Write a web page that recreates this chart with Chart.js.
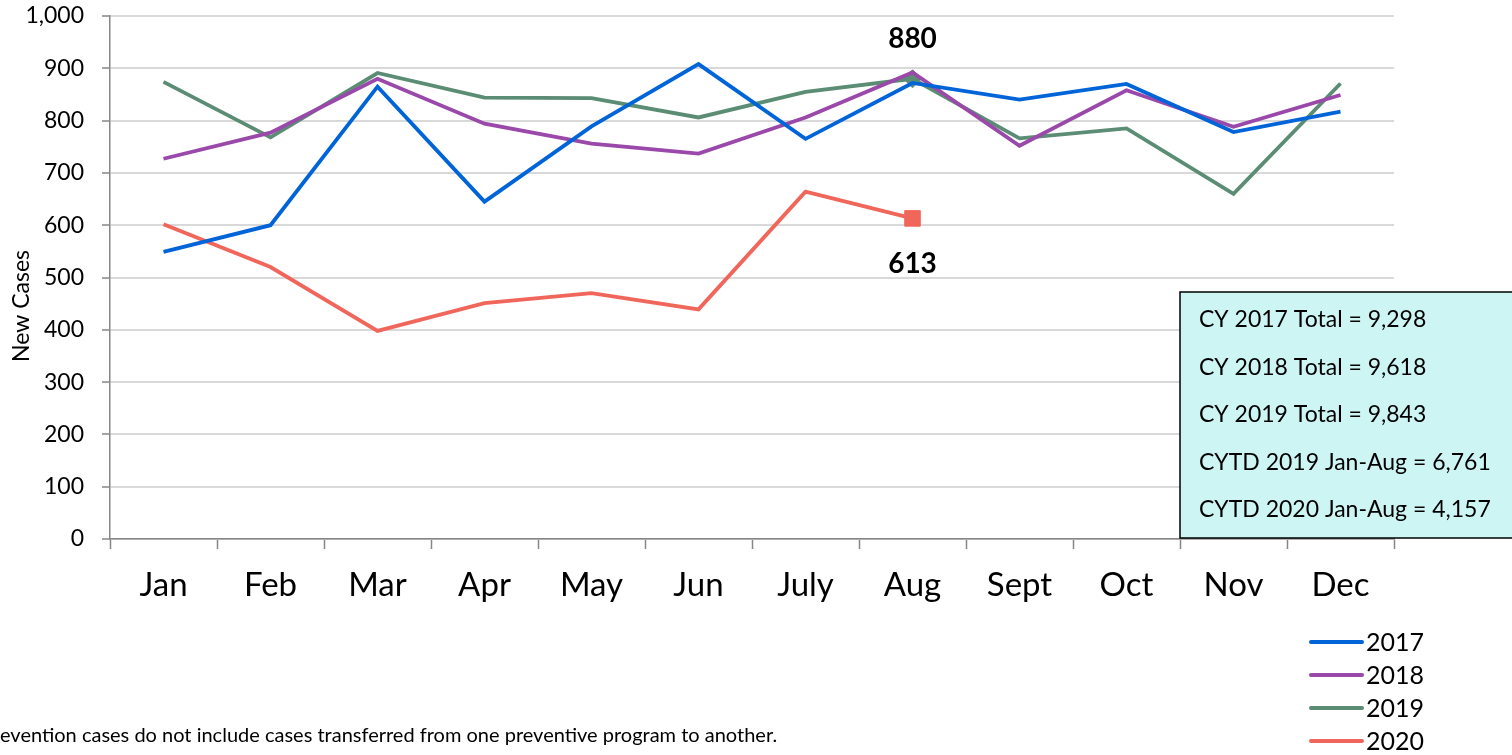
<!DOCTYPE html>
<html>
<head>
<meta charset="utf-8">
<script src="https://cdn.jsdelivr.net/npm/chart.js@4"></script>
<style>
  html, body { margin: 0; padding: 0; background: #fff; }
  #wrap { width: 1512px; height: 755px; position: relative; }
</style>
</head>
<body>
<div id="wrap"><canvas id="myChart" width="1512" height="755"></canvas></div>
<script>
const months = ['Jan', 'Feb', 'Mar', 'Apr', 'May', 'Jun', 'July', 'Aug', 'Sept', 'Oct', 'Nov', 'Dec']
const cases2017 = [549, 600, 865, 645, 789, 908, 765, 872, 840, 870, 778, 817]
const cases2018 = [727, 777, 880, 794, 756, 737, 806, 892, 752, 858, 788, 849]
const cases2019 = [874, 768, 891, 844, 843, 806, 855, 880, 766, 785, 660, 871]
const cases2020 = [602, 520, 398, 451, 470, 439, 664, 613]
const yTicks = [0, 100, 200, 300, 400, 500, 600, 700, 800, 900, 1000]
const yTitle = 'New Cases'
const boxLines = [
  'CY 2017 Total = 9,298',
  'CY 2018 Total = 9,618',
  'CY 2019 Total = 9,843',
  'CYTD 2019 Jan-Aug = 6,761',
  'CYTD 2020 Jan-Aug = 4,157'
]
const footnote = 'evention cases do not include cases transferred from one preventive program to another.'

const FONT = 'Lato, "Open Sans", sans-serif'
const markAt = 7  // Aug

// only the Aug point carries a marker
function onlyAug(r) {
  return months.map((m, i) => i === markAt ? r : 0)
}

const extras = {
  id: 'extras',
  afterDatasetsDraw(chart) {
    const c = chart.ctx
    const xs = chart.scales.x
    const ys = chart.scales.y
    c.save()

    // y axis title (sits a bit below the middle in the original)
    c.fillStyle = '#000'
    c.font = '23px ' + FONT
    c.textAlign = 'center'
    c.textBaseline = 'middle'
    c.save()
    c.translate(22, 306)
    c.rotate(-Math.PI / 2)
    c.fillText(yTitle, 0, 0)
    c.restore()

    // value labels at Aug
    c.font = 'bold 28px ' + FONT
    const ax = xs.getPixelForValue(markAt)
    c.fillText(String(cases2019[markAt]), ax, ys.getPixelForValue(cases2019[markAt]) - 40)
    c.fillText(String(cases2020[markAt]), ax, ys.getPixelForValue(cases2020[markAt]) + 46)

    // totals box
    const bx = 1180, by = 292, bw = 340, bh = 246
    c.fillStyle = '#ccf5f4'
    c.fillRect(bx, by, bw, bh)
    c.strokeStyle = '#000'
    c.lineWidth = 1.5
    c.strokeRect(bx, by, bw, bh)
    c.fillStyle = '#000'
    c.font = '23px ' + FONT
    c.textAlign = 'left'
    boxLines.forEach((t, i) => c.fillText(t, 1199, 320 + i * 47.5))

    // legend
    chart.data.datasets.forEach((ds, i) => {
      const y = 642 + i * 33
      c.strokeStyle = ds.borderColor
      c.lineWidth = 4
      c.lineCap = 'round'
      c.beginPath()
      c.moveTo(1311, y)
      c.lineTo(1362, y)
      c.stroke()
      c.fillStyle = '#000'
      c.font = '25px ' + FONT
      c.fillText(ds.label, 1366, y + 1)
    })

    // footnote
    c.font = '20px ' + FONT
    c.fillText(footnote, 0, 736)
    c.restore()
  }
}

new Chart(document.getElementById('myChart'), {
  type: 'line',
  data: {
    labels: months,
    datasets: [
      { label: '2017', data: cases2017, borderColor: '#0064d9', backgroundColor: '#0064d9' },
      { label: '2018', data: cases2018, borderColor: '#9a48aa', backgroundColor: '#9a48aa' },
      { label: '2019', data: cases2019, borderColor: '#5b8c74', backgroundColor: '#5b8c74',
        pointStyle: 'rectRot', pointRadius: onlyAug(9) },
      { label: '2020', data: cases2020, borderColor: '#f1665b', backgroundColor: '#f1665b',
        pointStyle: 'rect', pointRadius: onlyAug(11) }
    ]
  },
  options: {
    responsive: false,
    animation: false,
    layout: { padding: { top: 16, right: 118, bottom: 0, left: 0 } },
    elements: {
      line: { borderWidth: 3.8, tension: 0 },
      point: { radius: 0, hoverRadius: 0 }
    },
    plugins: {
      legend: { display: false },
      tooltip: { enabled: false }
    },
    scales: {
      x: {
        offset: true,
        grid: { offset: true, drawOnChartArea: false, drawTicks: true, tickLength: 10, tickColor: '#868686', tickWidth: 1.5 },
        border: { color: '#868686', width: 1.5 },
        ticks: { color: '#000', font: { family: FONT, size: 33 }, padding: 17, maxRotation: 0 },
        afterFit(scale) { scale.height = 216 }
      },
      y: {
        min: 0,
        max: 1000,
        afterBuildTicks(scale) { scale.ticks = yTicks.map(v => ({ value: v })) },
        grid: { color: '#d9d9d9', lineWidth: 2, tickColor: '#868686', tickLength: 8, tickWidth: 1.5 },
        border: { color: '#868686', width: 1.5 },
        ticks: {
          color: '#000',
          font: { family: FONT, size: 23 },
          padding: 18,
          callback: v => v.toLocaleString('en-US')
        },
        afterFit(scale) {
          scale.width = 110
          scale.paddingTop = 0
        }
      }
    }
  },
  plugins: [extras]
})
</script>
</body>
</html>
